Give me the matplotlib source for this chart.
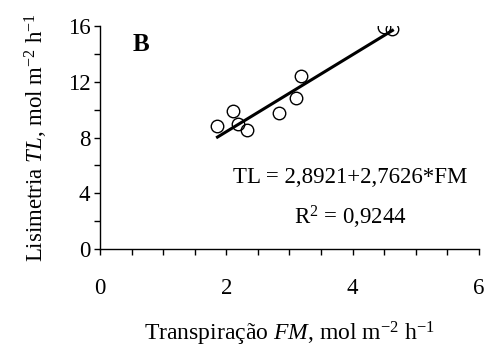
import matplotlib.pyplot as plt
from matplotlib.ticker import MultipleLocator

# dados
fm = [1.86, 2.10, 2.18, 2.33, 2.84, 3.10, 3.19, 4.50, 4.63]
tl = [8.8, 9.9, 8.95, 8.55, 9.75, 10.85, 12.4, 15.95, 15.8]
a, b = 2.8921, 2.7626

plt.rcParams['font.family'] = 'Liberation Serif'
plt.rcParams['mathtext.fontset'] = 'custom'
plt.rcParams['mathtext.rm'] = 'Liberation Serif'
plt.rcParams['mathtext.it'] = 'Liberation Serif:italic'

fig = plt.figure(figsize=(4.84, 3.49), dpi=100)
ax = fig.add_axes([0.2066, 0.2865, 0.783, 0.639])

ax.plot(fm, tl, 'o', mfc='none', mec='black', ms=9, mew=1.0, zorder=3)
xs = [min(fm), max(fm)]
ax.plot(xs, [a + b * x for x in xs], color='black', lw=2.2)

ax.set_xlim(0, 6)
ax.set_ylim(0, 16)
ax.xaxis.set_major_locator(MultipleLocator(2))
ax.xaxis.set_minor_locator(MultipleLocator(0.5))
ax.yaxis.set_major_locator(MultipleLocator(4))
ax.yaxis.set_minor_locator(MultipleLocator(2))
for s in ['top', 'right']:
    ax.spines[s].set_visible(False)
for s in ['left', 'bottom']:
    ax.spines[s].set_linewidth(1.0)
ax.tick_params(axis='both', which='both', direction='out', length=4, width=1, labelsize=16.5)
ax.tick_params(axis='x', which='major', pad=17)
ax.tick_params(axis='y', which='major', pad=3)

ax.set_xlabel('Transpiração $\\it{FM}$, mol m$^{-2}$ h$^{-1}$', fontsize=17, labelpad=15)
ax.set_ylabel('Lisimetria $\\it{TL}$, mol m$^{-2}$ h$^{-1}$', fontsize=16.5, labelpad=13)

ax.text(0.087, 0.915, 'B', transform=ax.transAxes, fontsize=18, fontweight='bold', va='center')
ax.text(0.66, 0.32, 'TL = 2,8921+2,7626*FM', transform=ax.transAxes, fontsize=16.5, ha='center', va='center')
ax.text(0.66, 0.14, 'R$^{2}$ = 0,9244', transform=ax.transAxes, fontsize=16.5, ha='center', va='center')

plt.savefig('out.png', dpi=100)
plt.close()
